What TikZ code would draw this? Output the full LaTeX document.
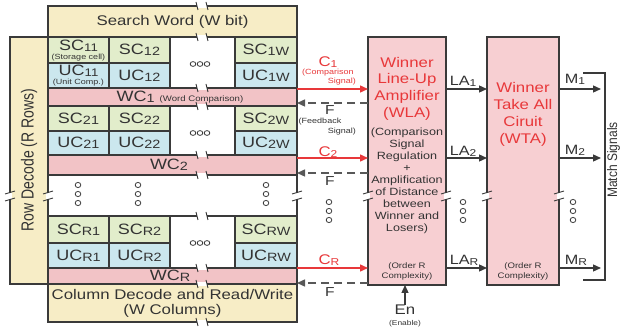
\documentclass[tikz,border=0pt]{standalone}
\usepackage{fontspec}
\setmainfont[FakeStretch=1.2]{Liberation Sans}
\newfontfamily\plainf{Liberation Sans}
\usetikzlibrary{arrows.meta,calc}
\definecolor{lc}{HTML}{3A3A3A}
\definecolor{bei}{HTML}{F7EDC6}
\definecolor{scg}{HTML}{E2EDCB}
\definecolor{ucb}{HTML}{CBE7EE}
\definecolor{wcp}{HTML}{F2C3C6}
\definecolor{amp}{HTML}{F7CFD2}
\definecolor{rd}{HTML}{E8383A}
\definecolor{tc}{HTML}{333333}
\newcommand\fs[1]{\fontsize{#1}{#1}\selectfont}
\newcommand\lo[2]{\raisebox{-1.2pt}{\fontsize{#1}{#1}\selectfont #2}}
\newcommand\hbrk[2]{%
  \fill[white] ({#1-5},{#2-1.6}) rectangle ({#1+5},{#2+1.6});
  \draw[brk] ({#1-6},{#2-4}) -- ({#1-4},{#2+4});
  \draw[brk] ({#1+4},{#2-4}) -- ({#1+6},{#2+4});}
\newcommand\vbrk[2]{%
  \fill[white] ({#1-1.6},{#2-3}) rectangle ({#1+1.6},{#2+3});
  \draw[brk] ({#1-5},{#2-2}) -- ({#1+5},{#2-5});
  \draw[brk] ({#1-5},{#2+5}) -- ({#1+5},{#2+2});}
\newcommand\hooo[2]{%
  \foreach \dx in {-7,0,7} \draw[dotc] ({#1+\dx},{#2}) ellipse [x radius=2.8pt, y radius=2.4pt];}
\newcommand\vooo[2]{%
  \foreach \dy in {-9,0,9} \draw[dotc] ({#1},{#2+\dy}) ellipse [x radius=2.8pt, y radius=2.6pt];}
\begin{document}
\begin{tikzpicture}[x=1pt,y=-1pt,
 box/.style={draw=lc,line width=1.2pt,inner sep=0pt,outer sep=0pt,anchor=north west,text=tc},
 lbl/.style={inner sep=0pt,text=tc},
 rlbl/.style={inner sep=0pt,text=rd},
 ln/.style={draw=lc,line width=1.2pt},
 brk/.style={draw=lc,line width=0.9pt},
 dotc/.style={draw=lc,line width=0.8pt},
 carr/.style={draw=rd,line width=1.4pt,-{Triangle[length=8pt,width=7pt]}},
 farr/.style={draw=lc!85,line width=1.4pt,dash pattern=on 8pt off 5pt,-{Triangle[length=8pt,width=7pt]}},
 karr/.style={draw=lc,line width=1.3pt,-{Triangle[length=8pt,width=7pt]}},
]
\useasboundingbox[fill=white] (0,0) rectangle (622,331);

% ---------- memory array ----------
\node[box,fill=bei,minimum width=249pt,minimum height=31pt] (sw) at (48,6) {\fs{14}Search Word (W bit)};
\node[box,fill=bei,minimum width=38pt,minimum height=247pt] (rdec) at (10,37) {};
\node[lbl,rotate=90] (rdect) at (29,160) {\scalebox{1}[1.25]{\plainf\fs{14}Row Decode (R Rows)}};
\node[box,fill=bei,minimum width=249pt,minimum height=38pt,align=center,font=\fontsize{14}{15}\selectfont] (cdec) at (48,284) {Column Decode and Read/Write\\(W Columns)};

% row 1
\node[box,fill=scg,minimum width=61pt,minimum height=26pt] (sc11) at (48,37) {};
\node[box,fill=ucb,minimum width=61pt,minimum height=25pt] (uc11) at (48,63) {};
\node[lbl] (sc11t) at (78.5,45.5) {\fs{15}SC\lo{11}{11}};
\node[lbl] (sc11s) at (78.5,57.8) {\fs{7.5}(Storage cell)};
\node[lbl] (uc11t) at (78.5,70.5) {\fs{15}UC\lo{11}{11}};
\node[lbl] (uc11s) at (78.5,82.8) {\fs{7.5}(Unit Comp.)};
\node[box,fill=scg,minimum width=61pt,minimum height=26pt] (sc12) at (109,37) {\fs{15}SC\lo{12}{12}};
\node[box,fill=ucb,minimum width=61pt,minimum height=25pt] (uc12) at (109,63) {\fs{15}UC\lo{12}{12}};
\node[box,fill=white,minimum width=65pt,minimum height=51pt] (d1) at (170,37) {};
\node[box,fill=scg,minimum width=62pt,minimum height=26pt] (sc1w) at (235,37) {\fs{15}SC\lo{12}{1W}};
\node[box,fill=ucb,minimum width=62pt,minimum height=25pt] (uc1w) at (235,63) {\fs{15}UC\lo{12}{1W}};
\node[box,fill=wcp,minimum width=249pt,minimum height=18pt] (wc1) at (48,88) {};
\node[lbl] (wc1t) at (180,97) {\fs{15}WC\lo{12}{1} {\fs{8}(Word Comparison)}};

% row 2
\node[box,fill=scg,minimum width=61pt,minimum height=25pt] (sc21) at (48,106) {\fs{15}SC\lo{12}{21}};
\node[box,fill=ucb,minimum width=61pt,minimum height=24pt] (uc21) at (48,131) {\fs{15}UC\lo{12}{21}};
\node[box,fill=scg,minimum width=61pt,minimum height=25pt] (sc22) at (109,106) {\fs{15}SC\lo{12}{22}};
\node[box,fill=ucb,minimum width=61pt,minimum height=24pt] (uc22) at (109,131) {\fs{15}UC\lo{12}{22}};
\node[box,fill=white,minimum width=65pt,minimum height=49pt] (d2) at (170,106) {};
\node[box,fill=scg,minimum width=62pt,minimum height=25pt] (sc2w) at (235,106) {\fs{15}SC\lo{12}{2W}};
\node[box,fill=ucb,minimum width=62pt,minimum height=24pt] (uc2w) at (235,131) {\fs{15}UC\lo{12}{2W}};
\node[box,fill=wcp,minimum width=249pt,minimum height=20pt] (wc2) at (48,155) {};
\node[lbl] (wc2t) at (169,165) {\fs{15}WC\lo{12}{2}};

% row R
\node[box,fill=scg,minimum width=61pt,minimum height=27pt] (scr1) at (48,216) {\fs{15}SC\lo{12}{R1}};
\node[box,fill=ucb,minimum width=61pt,minimum height=25pt] (ucr1) at (48,243) {\fs{15}UC\lo{12}{R1}};
\node[box,fill=scg,minimum width=61pt,minimum height=27pt] (scr2) at (109,216) {\fs{15}SC\lo{12}{R2}};
\node[box,fill=ucb,minimum width=61pt,minimum height=25pt] (ucr2) at (109,243) {\fs{15}UC\lo{12}{R2}};
\node[box,fill=white,minimum width=65pt,minimum height=52pt] (dr) at (170,216) {};
\node[box,fill=scg,minimum width=62pt,minimum height=27pt] (scrw) at (235,216) {\fs{15}SC\lo{12}{RW}};
\node[box,fill=ucb,minimum width=62pt,minimum height=25pt] (ucrw) at (235,243) {\fs{15}UC\lo{12}{RW}};
\node[box,fill=wcp,minimum width=249pt,minimum height=16pt] (wcr) at (48,268) {};
\node[lbl] (wcrt) at (170,275.5) {\fs{15}WC\lo{12}{R}};

\draw[ln] (wc2.south east) -- (scrw.north east);

% dots
\hooo{200}{64}
\hooo{200}{133}
\hooo{200}{243}
\vooo{78}{194}
\vooo{138}{194}
\vooo{266}{194}
\vooo{329}{211}
\vooo{463}{211}
\vooo{573}{211}

% ---------- WLA / WTA ----------
\node[box,fill=amp,minimum width=78pt,minimum height=248pt] (wla) at (368,37) {};
\node[rlbl,align=center,font=\fontsize{14}{16.7}\selectfont] (wlat) at (407,88.5) {Winner\\Line-Up\\Amplifier\\(WLA)};
\node[lbl,align=center,font=\fontsize{10.5}{12}\selectfont] (wlab) at (407,180.5) {(Comparison\\Signal\\Regulation\\+\\Amplification\\of Distance\\between\\Winner and\\Losers)};
\node[lbl,align=center,font=\fontsize{8}{9.5}\selectfont] (wlao) at (407,271.5) {(Order R\\Complexity)};

\node[box,fill=amp,minimum width=72pt,minimum height=248pt] (wta) at (487,37) {};
\node[rlbl,align=center,font=\fontsize{14}{17}\selectfont] (wtat) at (523,114) {Winner\\Take All\\Ciruit\\(WTA)};
\node[lbl,align=center,font=\fontsize{8}{9.5}\selectfont] (wtao) at (523,271.5) {(Order R\\Complexity)};

% break marks
\foreach \yy in {6,37,88,106,155,175,216,268,284,322} {\hbrk{202}{\yy}}
\foreach \xx in {10,48,297,368,446,487,559} {\vbrk{\xx}{196}}

% ---------- signals ----------
\coordinate (c1) at (297,89);
\coordinate (c2) at (297,158);
\coordinate (cr) at (297,268);
\coordinate (f1) at (368,103);
\coordinate (f2) at (368,173);
\coordinate (fr) at (368,283);
\draw[carr] (c1) -- (c1 -| wla.west);
\draw[carr] (c2) -- (c2 -| wla.west);
\draw[carr] (cr) -- (cr -| wla.west);
\draw[farr] (f1) -- (f1 -| wc1.east);
\draw[farr] (f2) -- (f2 -| wc2.east);
\draw[farr] (fr) -- (fr -| wcr.east);
\draw[karr] (c1 -| wla.east) -- (c1 -| wta.west);
\draw[karr] (c2 -| wla.east) -- (c2 -| wta.west);
\draw[karr] (cr -| wla.east) -- (cr -| wta.west);
\coordinate (m1) at (601,89);
\coordinate (m2) at (601,158);
\coordinate (mr) at (601,268);
\draw[karr] (m1 -| wta.east) -- (m1);
\draw[karr] (m2 -| wta.east) -- (m2);
\draw[karr] (mr -| wta.east) -- (mr);

\coordinate (bt1) at (583,73);
\coordinate (bt2) at (605,73);
\coordinate (bb2) at (605,280);
\coordinate (bb1) at (583,280);
\draw[ln] (bt1) -- (bt2) -- (bb2) -- (bb1);
\node[lbl,rotate=90] (match) at (613.5,160) {\scalebox{1}[1.15]{\plainf\fs{12}Match Signals}};

% labels
\node[rlbl] (c1l) at (328,62) {\fs{14}C\lo{10}{1}};
\node[rlbl] (c1s1) at (328,73) {\fs{7.5}(Comparison};
\node[rlbl,anchor=east] (c1s2) at (356,82) {\fs{7.5}Signal)};
\node[lbl] (f1l) at (330,110) {\fs{13}F};
\node[lbl] (f1s1) at (320,121.5) {\fs{7.5}(Feedback};
\node[lbl,anchor=east] (f1s2) at (356,132) {\fs{7.5}Signal)};
\node[rlbl] (c2l) at (328,152) {\fs{14}C\lo{10}{2}};
\node[lbl] (f2l) at (330,181) {\fs{13}F};
\node[rlbl] (crl) at (329,260) {\fs{14}C\lo{10}{R}};
\node[lbl] (frl) at (330,292) {\fs{13}F};

\node[lbl] (la1) at (463,81) {\fs{13.5}LA\lo{10}{1}};
\node[lbl] (la2) at (463,151) {\fs{13.5}LA\lo{10}{2}};
\node[lbl] (lar) at (464,260) {\fs{13.5}LA\lo{10}{R}};
\node[lbl] (m1l) at (575,79) {\fs{13.5}M\lo{10}{1}};
\node[lbl] (m2l) at (575,150) {\fs{13.5}M\lo{10}{2}};
\node[lbl] (mrl) at (576,260) {\fs{13.5}M\lo{10}{R}};

\node[lbl] (en) at (405,310) {\fs{14}En};
\node[lbl] (ens) at (405,324) {\fs{7}(Enable)};
\draw[karr] (en.north) -- (en.north |- wla.south);
\end{tikzpicture}
\end{document}
